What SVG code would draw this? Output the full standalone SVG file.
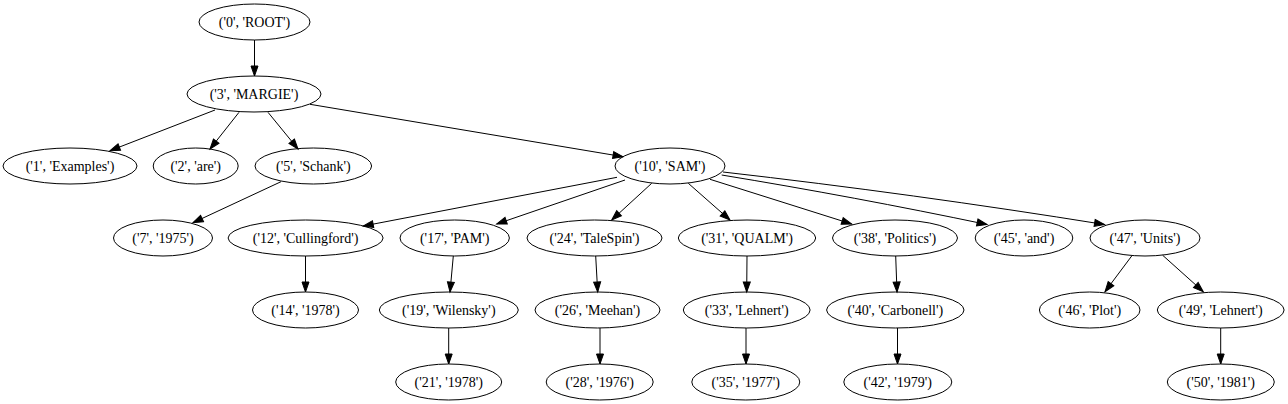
<svg xmlns="http://www.w3.org/2000/svg" width="1288" height="404" viewBox="0 0 1288 404">
<defs>
<marker id="ah" markerUnits="userSpaceOnUse" markerWidth="10" markerHeight="7" refX="10" refY="3.5" orient="auto" overflow="visible">
<path d="M0,0 L10,3.5 L0,7 z" fill="#000" stroke="#000" stroke-width="1"/>
</marker>
<style>
.n ellipse{fill:none;stroke:#000;stroke-width:1}
.n text{font-size:14px;text-anchor:middle;fill:#000}
.e path{fill:none;stroke:#000;stroke-width:1;marker-end:url(#ah)}
</style>
</defs>
<rect width="1288" height="404" fill="#fff"/>
<g id="edges" class="e">
<path d="M254.5,40 L254.5,76"/>
<path d="M215,110 L110,150.7"/>
<path d="M239,112.3 L210,149"/>
<path d="M268,112.3 L298,149"/>
<path d="M310,104.3 L623,156.7"/>
<path d="M281,181.7 L193,222.7"/>
<path d="M617,177.3 L363.3,226"/>
<path d="M625,180 L496.7,224"/>
<path d="M651.7,183.3 L611.7,220"/>
<path d="M688.3,183.3 L730,220"/>
<path d="M710,179.3 L851.7,224"/>
<path d="M721.7,175 C810,189.5 898.6,206 987,224.5"/>
<path d="M723,172 C850,186.5 977,204 1104.5,224.5"/>
<path d="M305.5,256 L305.5,292"/>
<path d="M453.3,256 L450,292"/>
<path d="M448.7,328 L448.7,364"/>
<path d="M595.7,256 L597.7,292"/>
<path d="M600,328 L600,364"/>
<path d="M747,256 L746.7,292"/>
<path d="M746,328 L746,364"/>
<path d="M895.7,256 L897,292"/>
<path d="M897.5,328 L897.5,364"/>
<path d="M1131.7,256 L1105,291.7"/>
<path d="M1162.7,255.3 L1203.3,291.7"/>
<path d="M1220.7,328 L1220.7,364"/>
</g>
<g id="nodes" font-family="'Liberation Serif', 'Times New Roman', serif">
<g id="n0" class="n"><ellipse cx="254.5" cy="22" rx="55.5" ry="18"/><text x="254.5" y="26.5">('0', 'ROOT')</text></g>
<g id="n3" class="n"><ellipse cx="254" cy="94" rx="67" ry="18"/><text x="254" y="98.5">('3', 'MARGIE')</text></g>
<g id="n1" class="n"><ellipse cx="70" cy="166" rx="67" ry="18"/><text x="70" y="170.5">('1', 'Examples')</text></g>
<g id="n2" class="n"><ellipse cx="195.7" cy="166" rx="42.5" ry="18"/><text x="195.7" y="170.5">('2', 'are')</text></g>
<g id="n5" class="n"><ellipse cx="313.3" cy="166" rx="58.3" ry="18"/><text x="313.3" y="170.5">('5', 'Schank')</text></g>
<g id="n10" class="n"><ellipse cx="670" cy="166" rx="55" ry="18"/><text x="670" y="170.5">('10', 'SAM')</text></g>
<g id="n7" class="n"><ellipse cx="163" cy="238" rx="49.5" ry="18"/><text x="163" y="242.5">('7', '1975')</text></g>
<g id="n12" class="n"><ellipse cx="305.6" cy="238" rx="77.5" ry="18"/><text x="305.6" y="242.5">('12', 'Cullingford')</text></g>
<g id="n17" class="n"><ellipse cx="454.7" cy="238" rx="54.7" ry="18"/><text x="454.7" y="242.5">('17', 'PAM')</text></g>
<g id="n24" class="n"><ellipse cx="594.5" cy="238" rx="67.5" ry="18"/><text x="594.5" y="242.5">('24', 'TaleSpin')</text></g>
<g id="n31" class="n"><ellipse cx="747" cy="238" rx="68.7" ry="18"/><text x="747" y="242.5">('31', 'QUALM')</text></g>
<g id="n38" class="n"><ellipse cx="895" cy="238" rx="62.5" ry="18"/><text x="895" y="242.5">('38', 'Politics')</text></g>
<g id="n45" class="n"><ellipse cx="1024" cy="238" rx="48.8" ry="18"/><text x="1024" y="242.5">('45', 'and')</text></g>
<g id="n47" class="n"><ellipse cx="1145" cy="238" rx="55" ry="18"/><text x="1145" y="242.5">('47', 'Units')</text></g>
<g id="n14" class="n"><ellipse cx="305.5" cy="310" rx="53" ry="18"/><text x="305.5" y="314.5">('14', '1978')</text></g>
<g id="n19" class="n"><ellipse cx="448.8" cy="310" rx="69.5" ry="18"/><text x="448.8" y="314.5">('19', 'Wilensky')</text></g>
<g id="n26" class="n"><ellipse cx="597.5" cy="310" rx="62.5" ry="18"/><text x="597.5" y="314.5">('26', 'Meehan')</text></g>
<g id="n33" class="n"><ellipse cx="746.7" cy="310" rx="63.4" ry="18"/><text x="746.7" y="314.5">('33', 'Lehnert')</text></g>
<g id="n40" class="n"><ellipse cx="895.3" cy="310" rx="68.7" ry="18"/><text x="895.3" y="314.5">('40', 'Carbonell')</text></g>
<g id="n46" class="n"><ellipse cx="1089.7" cy="310" rx="50.3" ry="18"/><text x="1089.7" y="314.5">('46', 'Plot')</text></g>
<g id="n49" class="n"><ellipse cx="1220.7" cy="310" rx="63.4" ry="18"/><text x="1220.7" y="314.5">('49', 'Lehnert')</text></g>
<g id="n21" class="n"><ellipse cx="448.7" cy="382" rx="53" ry="18"/><text x="448.7" y="386.5">('21', '1978')</text></g>
<g id="n28" class="n"><ellipse cx="599.7" cy="382" rx="53.5" ry="18"/><text x="599.7" y="386.5">('28', '1976')</text></g>
<g id="n35" class="n"><ellipse cx="745.8" cy="382" rx="54" ry="18"/><text x="745.8" y="386.5">('35', '1977')</text></g>
<g id="n42" class="n"><ellipse cx="897.8" cy="382" rx="54" ry="18"/><text x="897.8" y="386.5">('42', '1979')</text></g>
<g id="n50" class="n"><ellipse cx="1220.8" cy="382" rx="53.5" ry="18"/><text x="1220.8" y="386.5">('50', '1981')</text></g>
</g>
</svg>
